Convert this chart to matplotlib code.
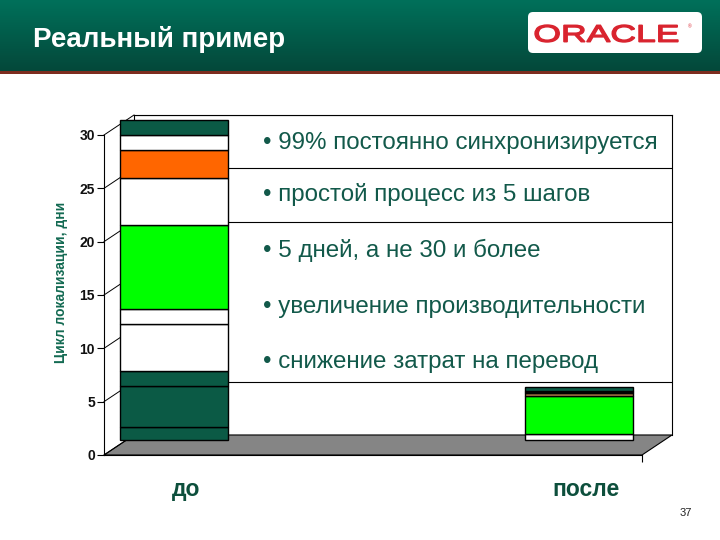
import numpy as np
import matplotlib
matplotlib.use('Agg')
import matplotlib.pyplot as plt
from matplotlib.patches import Rectangle, Polygon, FancyBboxPatch, PathPatch
from matplotlib.lines import Line2D
from matplotlib.transforms import IdentityTransform, Affine2D, blended_transform_factory
from matplotlib.textpath import TextPath
from matplotlib.font_manager import FontProperties
from matplotlib.colors import LinearSegmentedColormap

plt.rcParams['font.family'] = ['Liberation Sans', 'DejaVu Sans']

# data
categories = ['до', 'после']
before_vals = [1.2, 3.9, 1.4, 4.4, 1.4, 7.9, 4.4, 2.6, 1.4, 1.4]
before_cols = ['#0b5a45', '#0b5a45', '#0b5a45', 'white', 'white', '#00ff00',
               'white', '#ff6600', 'white', '#0b5a45']
after_vals = [0.6, 3.5, 0.3, 0.12, 0.1, 0.38]
after_cols = ['white', '#00ff00', '#b07a4a', '#e8c39a', '#b07a4a', '#0b5a45']
yticks = [0, 5, 10, 15, 20, 25, 30]
bullets = ['99% постоянно синхронизируется',
           'простой процесс из 5 шагов',
           '5 дней, а не 30 и более',
           'увеличение производительности',
           'снижение затрат на перевод']
ylabel = 'Цикл локализации, дни'
title = 'Реальный пример'

W, H = 720, 540
fig = plt.figure(figsize=(7.2, 5.4), dpi=100)
fig.patch.set_facecolor('white')


def px_axes(left, top, right, bottom, z=0):
    return fig.add_axes([left / W, 1 - bottom / H, (right - left) / W, (bottom - top) / H], zorder=z)


# header band
axh = px_axes(0, 0, 720, 71, z=5)
grad = np.linspace(0, 1, 100).reshape(-1, 1)
hcm = LinearSegmentedColormap.from_list('h', ['#00705a', '#04483a'])
axh.imshow(grad, aspect='auto', cmap=hcm, extent=[0, 1, 1, 0])
axh.set_xlim(0, 1); axh.set_ylim(1, 0)
axh.axis('off')
fig.add_artist(Rectangle((0, 1 - 74 / H), 1, 3 / H, transform=fig.transFigure,
                         facecolor='#7d2d1f', edgecolor='none', zorder=6))
fig.text(33 / W, 1 - 47 / H, title, color='white', fontsize=20, fontweight='bold',
         va='baseline', ha='left', zorder=10)

# oracle logo
logo = FancyBboxPatch((528, H - 53), 174, 41, boxstyle='round,pad=0,rounding_size=5',
                      transform=IdentityTransform(), facecolor='white', edgecolor='none', zorder=11)
fig.add_artist(logo)
tp = TextPath((0, 0), 'ORACLE', size=1, prop=FontProperties(family='Liberation Sans'))
ext = tp.get_extents()
tr = Affine2D().translate(-ext.x0, -ext.y0).scale(143 / ext.width, 17 / ext.height).translate(535, H - 42)
fig.add_artist(PathPatch(tp, transform=tr, facecolor='#d9232e', edgecolor='#d9232e', lw=1.0, zorder=12))
fig.text(690 / W, 1 - 27 / H, '®', color='#d9232e', fontsize=3.5, ha='center', va='center', zorder=12)

# back wall
axb = px_axes(134, 115, 672, 435, z=0)
axb.set_xlim(0, 1); axb.set_ylim(0, 30)
axb.set_yticks(yticks); axb.set_xticks([])
axb.tick_params(left=False, labelleft=False)
axb.yaxis.grid(True, color='black', lw=0.8)
for s in ['left', 'right', 'top']:
    axb.spines[s].set_linewidth(0.8)
    axb.spines[s].set_zorder(6)
axb.spines['bottom'].set_visible(False)
btr = blended_transform_factory(axb.transAxes, axb.transData)
axb.add_patch(Rectangle((0.17, 6.2), 0.83, 12.5, transform=btr, facecolor='white',
                        edgecolor='none', zorder=3))

# front plane axis
axf = px_axes(104, 135, 642, 455, z=2)
axf.set_xlim(0, 1); axf.set_ylim(0, 30)
axf.patch.set_visible(False)
axf.set_yticks(yticks)
axf.set_yticklabels([str(t) for t in yticks], fontsize=10, fontweight='bold', color='#111111')
axf.set_xticks([1.0]); axf.set_xticklabels([''])
axf.tick_params(direction='out', length=5, width=0.8, pad=1.5)
for s in ['top', 'right']:
    axf.spines[s].set_visible(False)
for s in ['left', 'bottom']:
    axf.spines[s].set_linewidth(0.8)

fig.canvas.draw()
# floor + depth lines (drawn in the back axes so bars cover them)
f0 = axf.transAxes.transform([(0, 0), (1, 0)])
b0 = axb.transAxes.transform([(1, 0), (0, 0)])
axb.add_patch(Polygon(np.vstack([f0, b0]), closed=True, transform=IdentityTransform(),
                      facecolor='#858585', edgecolor='black', lw=0.8, clip_on=False, zorder=4))
for v in yticks:
    p1 = axf.transData.transform((0, v))
    p2 = axb.transData.transform((0, v))
    axb.add_line(Line2D([p1[0], p2[0]], [p1[1], p2[1]], transform=IdentityTransform(),
                        color='black', lw=0.7, clip_on=False, zorder=5))

# bars
ax = px_axes(126, 120, 664, 440, z=1)
ax.set_xlim(-(174 - 126) / 405, 1 + (664 - 579) / 405)
ax.set_ylim(0, 30)
ax.axis('off')
bw = 108 / 405
for i, (vals, cols) in enumerate([(before_vals, before_cols), (after_vals, after_cols)]):
    bottoms = np.concatenate([[0], np.cumsum(vals)[:-1]])
    bars = ax.bar([i] * len(vals), vals, bottom=bottoms, width=bw, color=cols,
                  edgecolor='black', linewidth=1.0)
    for b in bars:
        b.set_clip_on(False)

# bullets
bullet_y = [143, 195, 250, 307, 362]
for txt, y in zip(bullets, bullet_y):
    fig.text(263 / W, 1 - y / H, '• ' + txt, fontsize=17.4, color='#12594a',
             ha='left', va='center', zorder=10)

# labels
fig.text(61 / W, 1 - 282 / H, ylabel, rotation=90, fontsize=10, fontweight='bold',
         color='#136a52', ha='center', va='center')
for name, x in zip(categories, [186, 586]):
    fig.text(x / W, 1 - 496 / H, name, fontsize=16.5, fontweight='bold', color='#0d4f3c',
             ha='center', va='baseline')
fig.text(686 / W, 1 - 513 / H, '37', fontsize=8, color='#222222', ha='center', va='center')

fig.savefig('out.png', dpi=100)
